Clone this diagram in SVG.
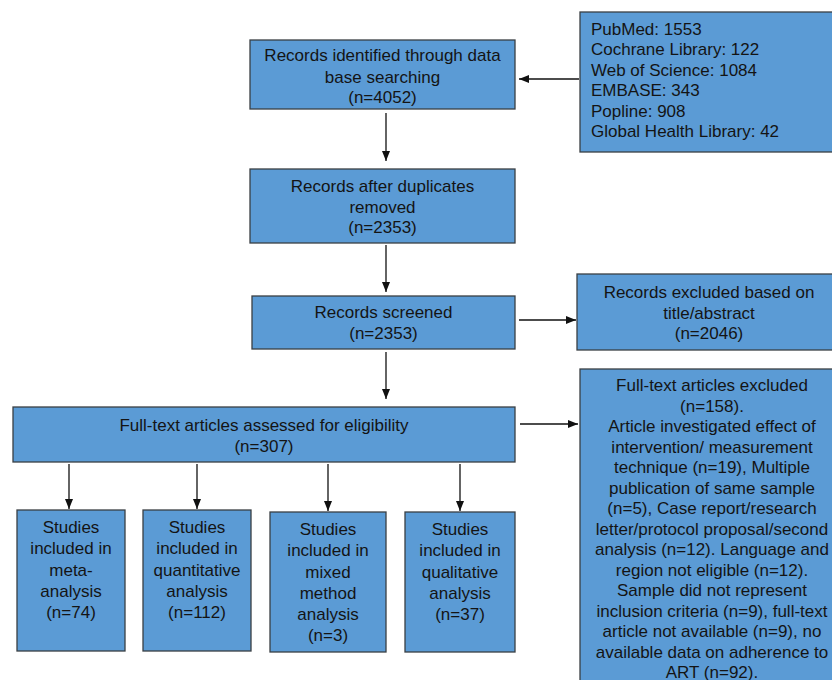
<svg xmlns="http://www.w3.org/2000/svg" width="832" height="680" viewBox="0 0 832 680">
<defs>
<style>
.box{fill:#5b9bd5;stroke:#3a3f44;stroke-width:1.3}
.t{font-family:"Liberation Sans",Arial,sans-serif;font-size:17px;fill:#141414}
.c{text-anchor:middle}
.ln{stroke:#111;stroke-width:1.3;fill:none}
</style>
<marker id="ah" viewBox="0 0 10 10" refX="10" refY="5" markerWidth="10" markerHeight="10" markerUnits="userSpaceOnUse" orient="auto">
<path d="M0,1 L10,5 L0,9 Z" fill="#111"/>
</marker>
</defs>
<rect width="832" height="680" fill="#fff"/>
<g id="connectors">
<line class="ln" x1="579" y1="79" x2="519" y2="79" marker-end="url(#ah)"/>
<line class="ln" x1="386" y1="113" x2="386" y2="161" marker-end="url(#ah)"/>
<line class="ln" x1="386" y1="245" x2="386" y2="292" marker-end="url(#ah)"/>
<line class="ln" x1="519" y1="320" x2="576" y2="320" marker-end="url(#ah)"/>
<line class="ln" x1="386" y1="352" x2="386" y2="399" marker-end="url(#ah)"/>
<line class="ln" x1="520" y1="424" x2="578" y2="424" marker-end="url(#ah)"/>
<line class="ln" x1="69" y1="464" x2="69" y2="509" marker-end="url(#ah)"/>
<line class="ln" x1="197" y1="464" x2="197" y2="509" marker-end="url(#ah)"/>
<line class="ln" x1="328" y1="464" x2="328" y2="511" marker-end="url(#ah)"/>
<line class="ln" x1="460" y1="464" x2="460" y2="511" marker-end="url(#ah)"/>
</g>
<g id="identified">
<rect class="box" x="250" y="40" width="265" height="69"/>
<text class="t c" x="382.5" y="61">Records identified through data</text>
<text class="t c" x="382.5" y="82.5">base searching</text>
<text class="t c" x="382.5" y="103">(n=4052)</text>
</g>
<g id="sources">
<rect class="box" x="580" y="12" width="262" height="140"/>
<text class="t" x="591" y="34.5">PubMed: 1553</text>
<text class="t" x="591" y="55">Cochrane Library: 122</text>
<text class="t" x="591" y="75.5">Web of Science: 1084</text>
<text class="t" x="591" y="96">EMBASE: 343</text>
<text class="t" x="591" y="116.5">Popline: 908</text>
<text class="t" x="591" y="137">Global Health Library: 42</text>
</g>
<g id="deduplicated">
<rect class="box" x="250" y="169" width="265" height="74"/>
<text class="t c" x="382.5" y="192">Records after duplicates</text>
<text class="t c" x="382.5" y="212.5">removed</text>
<text class="t c" x="382.5" y="233">(n=2353)</text>
</g>
<g id="screened">
<rect class="box" x="252" y="296" width="263" height="53"/>
<text class="t c" x="383.5" y="318">Records screened</text>
<text class="t c" x="383.5" y="339">(n=2353)</text>
</g>
<g id="excluded-abstract">
<rect class="box" x="577" y="274" width="264" height="76"/>
<text class="t c" x="709" y="298">Records excluded based on</text>
<text class="t c" x="709" y="318.5">title/abstract</text>
<text class="t c" x="709" y="339">(n=2046)</text>
</g>
<g id="fulltext">
<rect class="box" x="13" y="407" width="502" height="55"/>
<text class="t c" x="264" y="431">Full-text articles assessed for eligibility</text>
<text class="t c" x="264" y="452">(n=307)</text>
</g>
<g id="excluded-fulltext">
<rect class="box" x="580" y="369" width="264" height="320"/>
<text class="t c" x="712" y="391">Full-text articles excluded</text>
<text class="t c" x="712" y="411.5">(n=158).</text>
<text class="t c" x="712" y="432">Article investigated effect of</text>
<text class="t c" x="712" y="452.5">intervention/ measurement</text>
<text class="t c" x="712" y="473">technique (n=19), Multiple</text>
<text class="t c" x="712" y="493.5">publication of same sample</text>
<text class="t c" x="712" y="514">(n=5), Case report/research</text>
<text class="t c" x="712" y="534.5">letter/protocol proposal/second</text>
<text class="t c" x="712" y="555">analysis (n=12). Language and</text>
<text class="t c" x="712" y="575.5">region not eligible (n=12).</text>
<text class="t c" x="712" y="596">Sample did not represent</text>
<text class="t c" x="712" y="616.5">inclusion criteria (n=9), full-text</text>
<text class="t c" x="712" y="637">article not available (n=9), no</text>
<text class="t c" x="712" y="657.5">available data on adherence to</text>
<text class="t c" x="712" y="677.5">ART (n=92).</text>
</g>
<g id="meta">
<rect class="box" x="17" y="510" width="108" height="141"/>
<text class="t c" x="71" y="533">Studies</text>
<text class="t c" x="71" y="554">included in</text>
<text class="t c" x="71" y="575.5">meta-</text>
<text class="t c" x="71" y="597">analysis</text>
<text class="t c" x="71" y="618">(n=74)</text>
</g>
<g id="quantitative">
<rect class="box" x="143" y="510" width="108" height="141"/>
<text class="t c" x="197" y="533">Studies</text>
<text class="t c" x="197" y="554">included in</text>
<text class="t c" x="197" y="575.5">quantitative</text>
<text class="t c" x="197" y="597">analysis</text>
<text class="t c" x="197" y="618">(n=112)</text>
</g>
<g id="mixed">
<rect class="box" x="270" y="512" width="116" height="140"/>
<text class="t c" x="328" y="535">Studies</text>
<text class="t c" x="328" y="556">included in</text>
<text class="t c" x="328" y="577.5">mixed</text>
<text class="t c" x="328" y="599">method</text>
<text class="t c" x="328" y="620">analysis</text>
<text class="t c" x="328" y="641">(n=3)</text>
</g>
<g id="qualitative">
<rect class="box" x="405" y="512" width="110" height="140"/>
<text class="t c" x="460" y="535">Studies</text>
<text class="t c" x="460" y="556">included in</text>
<text class="t c" x="460" y="577.5">qualitative</text>
<text class="t c" x="460" y="599">analysis</text>
<text class="t c" x="460" y="620">(n=37)</text>
</g>
</svg>
